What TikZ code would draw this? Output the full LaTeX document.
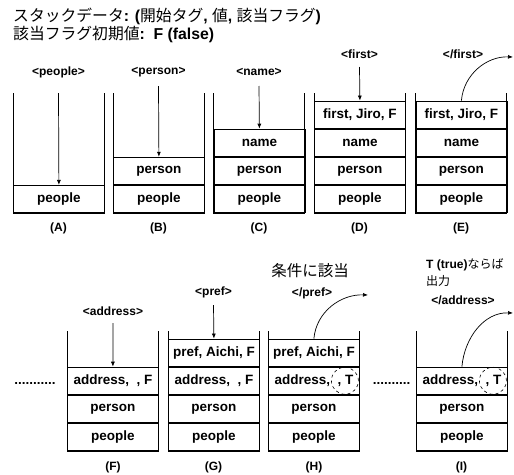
\documentclass[tikz,border=0pt]{standalone}
\usepackage{fontspec}
\setmainfont{Liberation Sans}
\newfontfamily\jpfont{Noto Sans CJK JP}
\usetikzlibrary{arrows.meta}
\newcommand\jp[1]{{\jpfont\mdseries #1}}
% open-topped stack container: left x, top y
\newcommand\stackwalls[2]{\draw[wall] (#1,#2) -- (#1,#2+120) -- (#1+91,#2+120) -- (#1+91,#2);}

\tikzset{
  wall/.style={line width=0.8pt},
  cell/.style={draw, line width=0.8pt, minimum width=91pt, minimum height=27.3pt,
    inner sep=0pt, anchor=south west, font=\fontsize{13.5}{16}\selectfont\bfseries},
  upcell/.style={cell, anchor=south},
  tag/.style={font=\fontsize{12}{14}\selectfont\bfseries, inner sep=0pt},
  caption/.style={font=\fontsize{12}{14}\selectfont\bfseries, inner sep=0pt},
  dots/.style={font=\fontsize{13.5}{16}\selectfont\bfseries, inner sep=0pt},
  note/.style={inner sep=0pt, anchor=west},
  arr/.style={-{Latex[length=5pt,width=4pt]}, line width=0.7pt},
  flag/.style={draw, dashed, circle, minimum size=27pt, inner sep=0pt, line width=0.6pt},
}

\begin{document}
\begin{tikzpicture}[x=1pt,y=-1pt]
\useasboundingbox (0,0) rectangle (514,474);

% legend
\node[note, font=\fontsize{15.8}{18}\selectfont] (leg1) at (13,16)
  {\jp{スタックデータ}\textbf{: (}\jp{開始タグ}\textbf{, }\jp{値}\textbf{, }\jp{該当フラグ}\textbf{)}};
\node[note, font=\fontsize{15.8}{18}\selectfont] (leg2) at (13,35)
  {\jp{該当フラグ初期値}\textbf{:\ \ F (false)}};

% ---------- top row ----------
\stackwalls{13}{93}
\stackwalls{113}{93}
\stackwalls{213.5}{93}
\stackwalls{314}{93}
\stackwalls{415.5}{93}

% (A)
\node[cell] (A1) at (13,213) {people};
% (B)
\node[cell] (B1) at (113,213) {people};
\node[upcell] (B2) at (B1.north) {person};
% (C)
\node[cell] (C1) at (213.5,213) {people};
\node[upcell] (C2) at (C1.north) {person};
\node[upcell] (C3) at (C2.north) {name};
% (D)
\node[cell] (D1) at (314,213) {people};
\node[upcell] (D2) at (D1.north) {person};
\node[upcell] (D3) at (D2.north) {name};
\node[upcell] (D4) at (D3.north) {first, Jiro, F};
% (E)
\node[cell] (E1) at (415.5,213) {people};
\node[upcell] (E2) at (E1.north) {person};
\node[upcell] (E3) at (E2.north) {name};
\node[upcell] (E4) at (E3.north) {first, Jiro, F};

% tags
\node[tag] (tA) at (58.5,72) {<people>};
\node[tag] (tB) at (158.5,72) {<person>};
\node[tag] (tC) at (259,72) {<name>};
\node[tag] (tD) at (359.5,54) {<first>};
\node[tag] (tE) at (463,54) {</first>};

\coordinate (sA) at (58.5,93);
\coordinate (sB) at (158.5,86);
\coordinate (sC) at (259,86);
\coordinate (sD) at (359.5,67);
\coordinate (eE) at (513,57);

\draw[arr] (sA) -- (A1.north);
\draw[arr] (sB) -- (B2.north);
\draw[arr] (sC) -- (C3.north);
\draw[arr] (sD) -- (D4.north);
\draw[arr] (E4.north) to[out=85,in=178] (eE);

% captions
\node[caption] (cA) at (58.5,228) {(A)};
\node[caption] (cB) at (158.5,228) {(B)};
\node[caption] (cC) at (259,228) {(C)};
\node[caption] (cD) at (359.5,228) {(D)};
\node[caption] (cE) at (461,228) {(E)};

% ---------- bottom row ----------
\stackwalls{67}{331}
\stackwalls{168}{331}
\stackwalls{268}{331}
\stackwalls{416}{331}

% (F)
\node[cell] (F1) at (67,451) {people};
\node[upcell] (F2) at (F1.north) {person};
\node[upcell] (F3) at (F2.north) {address,\ \ , F};
% (G)
\node[cell] (G1) at (168,451) {people};
\node[upcell] (G2) at (G1.north) {person};
\node[upcell] (G3) at (G2.north) {address,\ \ , F};
\node[upcell] (G4) at (G3.north) {pref, Aichi, F};
% (H)
\node[cell] (H1) at (268,451) {people};
\node[upcell] (H2) at (H1.north) {person};
\node[upcell] (H3) at (H2.north) {address,\ \ , T};
\node[upcell] (H4) at (H3.north) {pref, Aichi, F};
\node[flag] (fH) at ([xshift=31pt]H3.center) {};
% (I)
\node[cell] (I1) at (416,451) {people};
\node[upcell] (I2) at (I1.north) {person};
\node[upcell] (I3) at (I2.north) {address,\ \ , T};
\node[flag] (fI) at ([xshift=31pt]I3.center) {};

% elided steps
\node[dots] (d1) at (35,383) {...........};
\node[dots] (d2) at (391.5,383) {..........};

% tags
\node[tag] (tF) at (113,311) {<address>};
\node[tag] (tG) at (213.5,292) {<pref>};
\node[tag] (tH) at (312,293) {</pref>};
\node[tag] (tI) at (463,300) {</address>};

\node[inner sep=0pt, font=\fontsize{15.5}{18}\selectfont] (nH) at (310,271) {\jp{条件に該当}};
\node[note, font=\fontsize{12}{14}\selectfont] (nI1) at (426,265) {\textbf{T (true)}\jp{ならば}};
\node[note, font=\fontsize{12}{14}\selectfont] (nI2) at (426,281) {\jp{出力}};

\coordinate (sF) at (113,323);
\coordinate (sG) at (213.5,305);
\coordinate (eH) at (368,295);
\coordinate (eI) at (513,313);

\draw[arr] (sF) -- (F3.north);
\draw[arr] (sG) -- (G4.north);
\draw[arr] (H4.north) to[out=85,in=178] (eH);
\draw[arr] (I3.north) to[out=85,in=178] (eI);

% captions
\node[caption] (cF) at (113,467) {(F)};
\node[caption] (cG) at (213.5,467) {(G)};
\node[caption] (cH) at (314,467) {(H)};
\node[caption] (cI) at (461.5,467) {(I)};
\end{tikzpicture}
\end{document}
